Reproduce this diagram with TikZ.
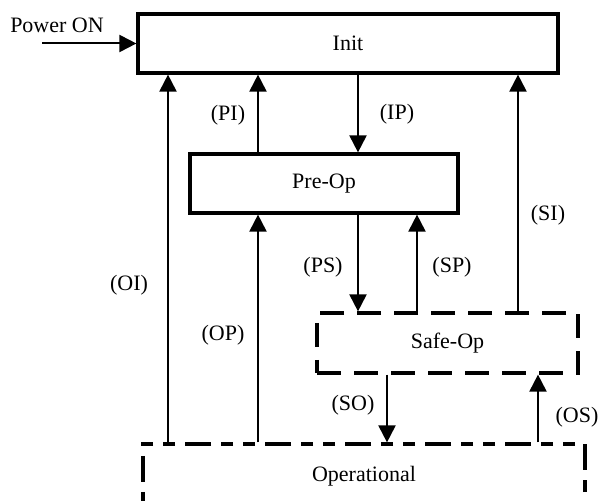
\documentclass[tikz,border=0pt]{standalone}
\usepackage{fontspec}
\setmainfont{Liberation Serif}
\usetikzlibrary{arrows.meta, positioning}
\tikzset{
    state/.style={rectangle, draw, line width=1.6pt, minimum height=29.5pt, align=center},
    safebox/.style={state, dash pattern=on 12pt off 6.5pt},
    opbox/.style={state, dash pattern=on 13pt off 5pt on 6pt off 5pt on 6pt off 5pt},
    arrow/.style={line width=1pt, -{Triangle[length=8.5pt, width=8.5pt]}},
    lbl/.style={inner sep=1pt}
}

\begin{document}
\begin{tikzpicture}[x=0.5pt, y=-0.5pt, font=\fontsize{11}{13}\selectfont]
    \useasboundingbox (0,0) rectangle (599,501);

    \node[state, minimum width=210pt] (init) at (348,43.5) {Init};
    \node[state, below=38.9pt of init, xshift=-12pt, minimum width=134pt] (preop) {Pre-Op};
    \node[safebox, below=48.4pt of preop, xshift=61.75pt, minimum width=130.5pt, minimum height=30pt] (safeop) {Safe-Op};
    \node[opbox, below=33.9pt of safeop, xshift=-41.75pt, minimum width=221pt, minimum height=32pt] (oper) {Operational};

    % power on
    \node[lbl] (power) at (57,25) {Power ON};
    \coordinate (pwr) at (42,43.5);
    \draw[arrow] (pwr) -- (init.west);

    % columns of the transitions
    \coordinate (cOI) at (168,0);
    \coordinate (cPI) at (258,0);
    \coordinate (cIP) at (358,0);
    \coordinate (cSP) at (417,0);
    \coordinate (cSO) at (387,0);
    \coordinate (cSI) at (518,0);
    \coordinate (cOS) at (538,0);

    \draw[arrow] (oper.north -| cOI) -- (init.south -| cOI);
    \draw[arrow] (preop.north -| cPI) -- (init.south -| cPI);
    \draw[arrow] (init.south -| cIP) -- (preop.north -| cIP);
    \draw[arrow] (safeop.north -| cSI) -- (init.south -| cSI);
    \draw[arrow] (oper.north -| cPI) -- (preop.south -| cPI);
    \draw[arrow] (preop.south -| cIP) -- (safeop.north -| cIP);
    \draw[arrow] (safeop.north -| cSP) -- (preop.south -| cSP);
    \draw[arrow] (safeop.south -| cSO) -- (oper.north -| cSO);
    \draw[arrow] (oper.north -| cOS) -- (safeop.south -| cOS);

    % transition labels
    \node[lbl] (lPI) at (228,115) {(PI)};
    \node[lbl] (lIP) at (397,114) {(IP)};
    \node[lbl] (lSI) at (548,215) {(SI)};
    \node[lbl] (lOI) at (129,285) {(OI)};
    \node[lbl] (lOP) at (223,335) {(OP)};
    \node[lbl] (lPS) at (323,267) {(PS)};
    \node[lbl] (lSP) at (452,267) {(SP)};
    \node[lbl] (lSO) at (353,405) {(SO)};
    \node[lbl] (lOS) at (577,417) {(OS)};
\end{tikzpicture}
\end{document}
